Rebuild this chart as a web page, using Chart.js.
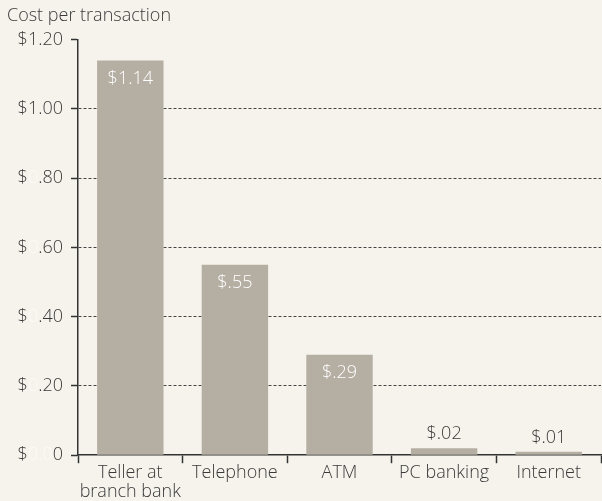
<!DOCTYPE html>
<html>
<head>
<meta charset="utf-8">
<script src="https://cdn.jsdelivr.net/npm/chart.js@4.4.1/dist/chart.umd.min.js"></script>
<style>
  html, body { margin: 0; padding: 0; background: #f6f3ed; }
  #wrap { width: 602px; height: 501px; }
</style>
</head>
<body>
<div id="wrap"><canvas id="chart_cost" width="602" height="501"></canvas></div>
<script>
// data
const categories = [['Teller at', 'branch bank'], 'Telephone', 'ATM', 'PC banking', 'Internet'];
const costs = [1.14, 0.55, 0.29, 0.02, 0.01];
const valueLabels = ['$1.14', '$.55', '$.29', '$.02', '$.01'];
const tickLabels = ['$0.00', '$0.20', '$0.40', '$0.60', '$0.80', '$1.00', '$1.20'];

const ink = '#3a3a3a';
const pale = '#fbfaf6';
const barColor = '#b5aea3';
const fontFamily = '"Open Sans", Lato, sans-serif';
const fontSize = 18;

// tick labels: the leading zeros are printed almost white in the original
const tickLabelPlugin = {
    id: 'tickLabelPlugin',
    afterDraw(chart) {
        const ctx = chart.ctx;
        const y = chart.scales.y;
        ctx.save();
        ctx.font = '300 ' + fontSize + 'px ' + fontFamily;
        ctx.textBaseline = 'middle';
        ctx.textAlign = 'left';
        y.ticks.forEach((t, i) => {
            const text = tickLabels[i];
            if (!text) return;
            let parts;
            if (i === 0) parts = [['$', ink], ['0.0', pale], ['0', ink]];
            else if (text.startsWith('$0')) parts = [['$', ink], ['0', pale], [text.slice(2), ink]];
            else parts = [[text, ink]];
            const total = parts.reduce((s, p) => s + ctx.measureText(p[0]).width, 0);
            let x = y.right - 15 - total;
            const py = y.getPixelForValue(t.value);
            parts.forEach(p => {
                ctx.fillStyle = p[1];
                ctx.fillText(p[0], x, py);
                x += ctx.measureText(p[0]).width;
            });
        });
        ctx.restore();
    }
};

// value labels: inside the bar (white) for tall bars, above it for short ones
const valueLabelPlugin = {
    id: 'valueLabelPlugin',
    afterDatasetsDraw(chart) {
        const ctx = chart.ctx;
        const meta = chart.getDatasetMeta(0);
        ctx.save();
        ctx.font = '300 ' + fontSize + 'px ' + fontFamily;
        ctx.textAlign = 'center';
        ctx.textBaseline = 'middle';
        meta.data.forEach((bar, i) => {
            const inside = costs[i] > 0.1;
            ctx.fillStyle = inside ? '#ffffff' : ink;
            ctx.fillText(valueLabels[i], bar.x, inside ? bar.y + 18 : bar.y - 14);
        });
        ctx.restore();
    }
};

window.onload = () => {
    const ctx = document.getElementById('chart_cost').getContext('2d');
    new Chart(ctx, {
        type: 'bar',
        data: {
            labels: categories,
            datasets: [{
                data: costs,
                backgroundColor: barColor,
                borderWidth: 0,
                categoryPercentage: 1,
                barPercentage: 0.635
            }]
        },
        options: {
            responsive: false,
            animation: false,
            layout: { padding: { left: 7, right: 1, top: 5, bottom: 0 } },
            plugins: {
                legend: { display: false },
                tooltip: { enabled: false },
                title: {
                    display: true,
                    text: 'Cost per transaction',
                    align: 'start',
                    color: ink,
                    font: { family: fontFamily, size: fontSize, weight: 300, lineHeight: 1.2 },
                    padding: { top: 0, bottom: 13 }
                }
            },
            scales: {
                x: {
                    grid: {
                        offset: true,
                        drawOnChartArea: false,
                        tickLength: 8,
                        tickColor: '#333',
                        tickWidth: 1.5
                    },
                    border: { display: true, color: '#333', width: 1.5 },
                    ticks: {
                        color: ink,
                        padding: 0,
                        maxRotation: 0,
                        autoSkip: false,
                        font: { family: fontFamily, size: fontSize, weight: 300, lineHeight: 1.05 }
                    }
                },
                y: {
                    min: 0,
                    max: 1.2,
                    afterFit: (scale) => { scale.width = 71; },
                    grid: {
                        color: (c) => (c.index === 0 || c.index === 6) ? 'rgba(0,0,0,0)' : '#444',
                        lineWidth: 1,
                        tickLength: 7,
                        tickColor: '#333',
                        tickWidth: 1.5
                    },
                    border: { display: true, color: '#333', width: 1.5, dash: [3, 2] },
                    ticks: {
                        stepSize: 0.2,
                        color: 'rgba(0,0,0,0)',
                        padding: 8,
                        font: { family: fontFamily, size: fontSize },
                        callback: (v, i) => tickLabels[i]
                    }
                }
            }
        },
        plugins: [tickLabelPlugin, valueLabelPlugin]
    });
};
</script>
</body>
</html>
